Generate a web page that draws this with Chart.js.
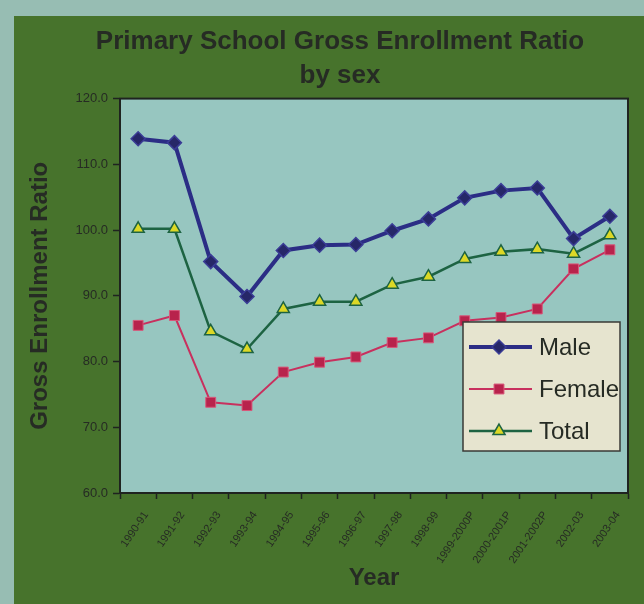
<!DOCTYPE html>
<html>
<head>
<meta charset="utf-8">
<script src="https://cdn.jsdelivr.net/npm/chart.js@4"></script>
<style>
  html, body { margin: 0; padding: 0; background: #97bdb3; }
  #wrap { width: 644px; height: 604px; }
</style>
</head>
<body>
<div id="wrap"><canvas id="chart" width="644" height="604"></canvas></div>
<script>
// school years on the x axis
const years = ["1990-91", "1991-92", "1992-93", "1993-94", "1994-95", "1995-96", "1996-97",
    "1997-98", "1998-99", "1999-2000P", "2000-2001P", "2001-2002P", "2002-03", "2003-04"];

const male = [113.9, 113.3, 95.2, 89.9, 96.9, 97.7, 97.8, 99.9, 101.7, 104.9, 106.0, 106.4, 98.7, 102.1];
const female = [85.5, 87.0, 73.8, 73.3, 78.4, 79.9, 80.7, 82.9, 83.6, 86.2, 86.7, 88.0, 94.1, 97.0];
const total = [100.2, 100.2, 84.6, 81.9, 88.0, 89.1, 89.1, 91.7, 92.9, 95.6, 96.7, 97.1, 96.4, 99.2];

const yTicks = [60, 70, 80, 90, 100, 110, 120];

const inkColor = "#262b24";
const fontName = "'Liberation Sans', Arial, sans-serif";

// green card behind the chart, light plot area with a dark frame
const backdrop = {
    id: "backdrop",
    beforeDraw(chart) {
        const { ctx, chartArea: a } = chart;
        ctx.save();
        ctx.fillStyle = "#97bdb3";
        ctx.fillRect(0, 0, chart.width, chart.height);
        ctx.fillStyle = "#47732c";
        ctx.fillRect(14, 16, chart.width - 14, chart.height - 16);
        ctx.fillStyle = "#97c6c0";
        ctx.fillRect(a.left, a.top, a.right - a.left, a.bottom - a.top);
        ctx.restore();
    },
    afterDatasetsDraw(chart) {
        const { ctx, chartArea: a } = chart;
        ctx.save();
        ctx.strokeStyle = "#1f2320";
        ctx.lineWidth = 2;
        ctx.strokeRect(a.left, a.top, a.right - a.left, a.bottom - a.top);
        ctx.restore();
    }
};

// legend box sitting inside the plot, lower right
const boxLegend = {
    id: "boxLegend",
    afterDraw(chart) {
        const { ctx, chartArea: a } = chart;
        const x = a.right - 165, y = a.bottom - 171, w = 157, h = 129;
        ctx.save();
        ctx.fillStyle = "#e6e4cf";
        ctx.fillRect(x, y, w, h);
        ctx.strokeStyle = "#3a3a36";
        ctx.lineWidth = 1.5;
        ctx.strokeRect(x, y, w, h);
        chart.data.datasets.forEach((ds, i) => {
            const cy = y + 25 + i * 42;
            ctx.strokeStyle = ds.borderColor;
            ctx.lineWidth = ds.borderWidth;
            ctx.beginPath();
            ctx.moveTo(x + 6, cy);
            ctx.lineTo(x + 69, cy);
            ctx.stroke();
            ctx.fillStyle = ds.pointBackgroundColor;
            ctx.strokeStyle = ds.pointBorderColor;
            ctx.lineWidth = ds.pointBorderWidth;
            Chart.helpers.drawPoint(ctx, {
                pointStyle: ds.pointStyle,
                radius: ds.pointRadius,
                borderWidth: ds.pointBorderWidth
            }, x + 36, cy);
            ctx.fillStyle = inkColor;
            ctx.font = "24px " + fontName;
            ctx.textBaseline = "middle";
            ctx.fillText(ds.label, x + 76, cy + 1);
        });
        ctx.restore();
    }
};

new Chart(document.getElementById("chart"), {
    type: "line",
    data: {
        labels: years,
        datasets: [
            {
                label: "Male",
                data: male,
                borderColor: "#2b2d85",
                borderWidth: 4,
                pointStyle: "rectRot",
                pointRadius: 7,
                pointBackgroundColor: "#262768",
                pointBorderColor: "#3a3c96",
                pointBorderWidth: 1.5,
                tension: 0
            },
            {
                label: "Female",
                data: female,
                borderColor: "#c8305e",
                borderWidth: 2,
                pointStyle: "rect",
                pointRadius: 7,
                pointBackgroundColor: "#b8234c",
                pointBorderColor: "#d8577a",
                pointBorderWidth: 1,
                tension: 0
            },
            {
                label: "Total",
                data: total,
                borderColor: "#1d6342",
                borderWidth: 2.5,
                pointStyle: "triangle",
                pointRadius: 7,
                pointBackgroundColor: "#dcd826",
                pointBorderColor: "#1d6342",
                pointBorderWidth: 1.5,
                tension: 0
            }
        ]
    },
    options: {
        responsive: false,
        animation: false,
        layout: { padding: { left: 36, right: 0, top: 16, bottom: 8 } },
        plugins: {
            legend: { display: false },
            tooltip: { enabled: false },
            title: {
                display: true,
                text: ["Primary School Gross Enrollment Ratio", "by sex"],
                color: inkColor,
                font: { family: fontName, size: 26, weight: "bold", lineHeight: 1.3 },
                padding: { top: 9, bottom: 6 }
            }
        },
        scales: {
            x: {
                offset: true,
                grid: { offset: true, drawOnChartArea: false, color: "#1f2320", tickLength: 6, tickWidth: 1.5 },
                border: { color: "#1f2320", width: 2 },
                ticks: {
                    color: inkColor,
                    font: { family: fontName, size: 11 },
                    minRotation: 56,
                    maxRotation: 56,
                    padding: 10,
                    labelOffset: 8,
                    autoSkip: false
                },
                title: {
                    display: true,
                    text: "Year",
                    color: inkColor,
                    font: { family: fontName, size: 24, weight: "bold" },
                    padding: { top: 0, bottom: 3 }
                },
                afterFit(scale) { scale.height = 103; }
            },
            y: {
                min: yTicks[0],
                max: yTicks[yTicks.length - 1],
                afterBuildTicks(scale) { scale.ticks = yTicks.map(v => ({ value: v })); },
                grid: { drawOnChartArea: false, color: "#1f2320", tickLength: 7, tickWidth: 1.5 },
                border: { color: "#1f2320", width: 2 },
                ticks: {
                    color: inkColor,
                    font: { family: fontName, size: 13 },
                    padding: 5,
                    callback: v => Number(v).toFixed(1)
                },
                title: {
                    display: true,
                    text: "Gross Enrollment Ratio",
                    color: inkColor,
                    font: { family: fontName, size: 24, weight: "bold" },
                    padding: { top: -10, bottom: 0 }
                },
                afterFit(scale) { scale.width = 84; }
            },
            // empty strip on the right so the plot stops short of the edge
            yRight: {
                position: "right",
                grid: { display: false },
                border: { display: false },
                ticks: { display: false },
                afterFit(scale) { scale.width = 16; }
            }
        }
    },
    plugins: [backdrop, boxLegend]
});
</script>
</body>
</html>
